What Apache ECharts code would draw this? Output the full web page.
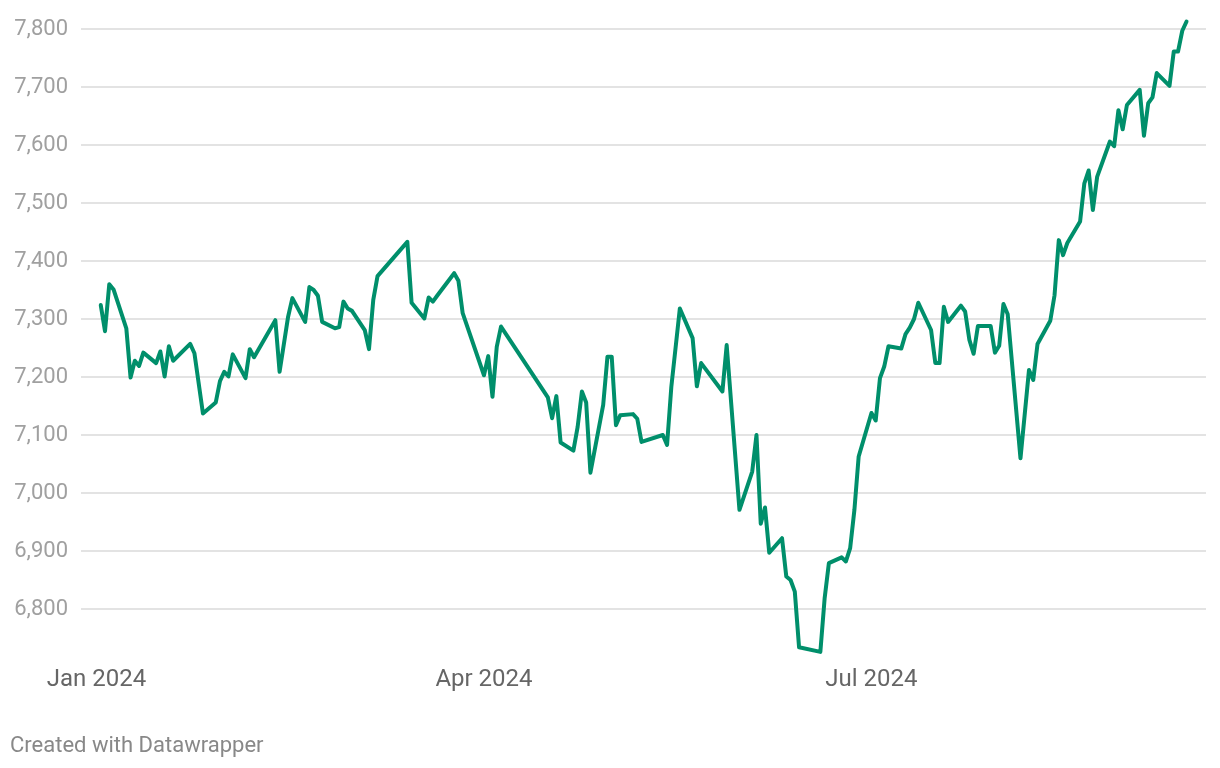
<!DOCTYPE html>
<html>
<head>
<meta charset="utf-8">
<script src="https://cdn.jsdelivr.net/npm/echarts@6/dist/echarts.min.js"></script>
<style>
  html, body { margin: 0; padding: 0; background: #ffffff; }
  #chart { width: 1220px; height: 768px; }
</style>
</head>
<body>
<div id="chart"></div>
<script>
const dates = [
  "2024-01-02","2024-01-03","2024-01-04","2024-01-05","2024-01-08","2024-01-09","2024-01-10","2024-01-11","2024-01-12",
  "2024-01-15","2024-01-16","2024-01-17","2024-01-18","2024-01-19","2024-01-23","2024-01-24","2024-01-26",
  "2024-01-29","2024-01-30","2024-01-31","2024-02-01","2024-02-02","2024-02-05","2024-02-06","2024-02-07",
  "2024-02-12","2024-02-13","2024-02-15","2024-02-16","2024-02-19","2024-02-20","2024-02-21","2024-02-22","2024-02-23",
  "2024-02-26","2024-02-27","2024-02-28","2024-02-29","2024-03-01","2024-03-04","2024-03-05","2024-03-06","2024-03-07",
  "2024-03-14","2024-03-15","2024-03-18","2024-03-19","2024-03-20","2024-03-21","2024-03-25","2024-03-26","2024-03-27",
  "2024-04-01","2024-04-02","2024-04-03","2024-04-04","2024-04-05","2024-04-16","2024-04-17","2024-04-18","2024-04-19",
  "2024-04-22","2024-04-23","2024-04-24","2024-04-25","2024-04-26","2024-04-29","2024-04-30","2024-05-01","2024-05-02","2024-05-03",
  "2024-05-06","2024-05-07","2024-05-08","2024-05-13","2024-05-14","2024-05-15","2024-05-17","2024-05-20","2024-05-21","2024-05-22",
  "2024-05-27","2024-05-28","2024-05-31","2024-06-03","2024-06-04","2024-06-05","2024-06-06","2024-06-07",
  "2024-06-10","2024-06-11","2024-06-12","2024-06-13","2024-06-14","2024-06-19","2024-06-20","2024-06-21",
  "2024-06-24","2024-06-25","2024-06-26","2024-06-27","2024-06-28","2024-07-01","2024-07-02","2024-07-03","2024-07-04","2024-07-05",
  "2024-07-08","2024-07-09","2024-07-10","2024-07-11","2024-07-12","2024-07-15","2024-07-16","2024-07-17","2024-07-18","2024-07-19",
  "2024-07-22","2024-07-23","2024-07-24","2024-07-25","2024-07-26","2024-07-29","2024-07-30","2024-07-31","2024-08-01","2024-08-02",
  "2024-08-05","2024-08-07","2024-08-08","2024-08-09","2024-08-12","2024-08-13","2024-08-14","2024-08-15","2024-08-16",
  "2024-08-19","2024-08-20","2024-08-21","2024-08-22","2024-08-23","2024-08-26","2024-08-27","2024-08-28","2024-08-29","2024-08-30",
  "2024-09-02","2024-09-03","2024-09-04","2024-09-05","2024-09-06","2024-09-09","2024-09-10","2024-09-11","2024-09-12","2024-09-13"
];

const values = [
  7324,7279,7360,7351,7284,7199,7228,7219,7242,
  7224,7244,7201,7253,7228,7257,7241,7137,
  7156,7193,7209,7201,7239,7198,7248,7234,
  7298,7209,7304,7336,7295,7355,7350,7340,7295,
  7284,7286,7330,7318,7314,7281,7248,7333,7374,
  7433,7328,7301,7337,7330,7340,7379,7366,7310,
  7203,7236,7166,7252,7287,7165,7129,7167,7087,
  7073,7114,7175,7156,7035,7152,7235,7235,7117,7134,
  7136,7128,7088,7100,7083,7183,7318,7267,7184,7224,
  7175,7255,6971,7037,7100,6947,6975,6897,
  6922,6856,6850,6830,6734,6726,6818,6879,
  6889,6882,6905,6971,7063,7138,7125,7198,7218,7253,
  7249,7274,7285,7300,7328,7281,7224,7224,7321,7295,
  7323,7313,7264,7240,7288,7288,7242,7254,7326,7308,
  7060,7212,7195,7257,7297,7341,7436,7410,7431,
  7468,7534,7556,7488,7545,7606,7598,7660,7627,7669,
  7695,7616,7672,7682,7724,7702,7761,7761,7797,7813
];

const xTickDates = ["2024-01-01", "2024-04-01", "2024-07-01"];
const xTickLabels = ["Jan 2024", "Apr 2024", "Jul 2024"];
const yTicks = [6800, 6900, 7000, 7100, 7200, 7300, 7400, 7500, 7600, 7700, 7800];

function ts(s) {
  const p = s.split('-').map(Number);
  return Date.UTC(p[0], p[1] - 1, p[2]);
}
const DAY = 86400000;
const jan1 = ts("2024-01-01");
const tickTs = xTickDates.map(ts);

const chart = echarts.init(document.getElementById('chart'), null, { renderer: 'canvas' });
chart.setOption({
  animation: false,
  backgroundColor: '#ffffff',
  textStyle: { fontFamily: 'Roboto' },
  grid: { left: 81, right: 14, top: 29, bottom: 101, containLabel: false },
  xAxis: {
    type: 'value',
    min: jan1 - 3.64 * DAY,
    max: jan1 + 260.57 * DAY,
    axisLine: { show: false },
    axisTick: { show: false },
    splitLine: { show: false },
    axisLabel: {
      customValues: tickTs,
      margin: 1,
      fontFamily: 'Roboto',
      fontSize: 24,
      color: '#666666',
      formatter: function (v) {
        let best = 0, bd = Infinity;
        tickTs.forEach(function (t, i) { const d = Math.abs(t - v); if (d < bd) { bd = d; best = i; } });
        return xTickLabels[best];
      }
    }
  },
  yAxis: {
    type: 'value',
    min: 6700,
    max: 7800,
    interval: 100,
    axisLine: { show: false },
    axisTick: { show: false },
    splitLine: { show: true, showMinLine: false, lineStyle: { color: '#e3e3e3', width: 2 } },
    axisLabel: {
      showMinLabel: false,
      margin: 13,
      fontFamily: 'Roboto',
      fontSize: 22,
      color: '#a0a0a0',
      formatter: function (v) { return yTicks.indexOf(v) >= 0 ? v.toLocaleString('en-US') : ''; }
    }
  },
  series: [{
    type: 'line',
    data: dates.map(function (d, i) { return [ts(d), values[i]]; }),
    showSymbol: false,
    symbol: 'none',
    clip: false,
    lineStyle: { color: '#008f6b', width: 4, join: 'round', cap: 'round' },
    silent: true
  }],
  graphic: [{
    type: 'text',
    left: 10,
    top: 735,
    style: { text: 'Created with Datawrapper', font: '22px Roboto', fill: '#888888' }
  }]
});
</script>
</body>
</html>
